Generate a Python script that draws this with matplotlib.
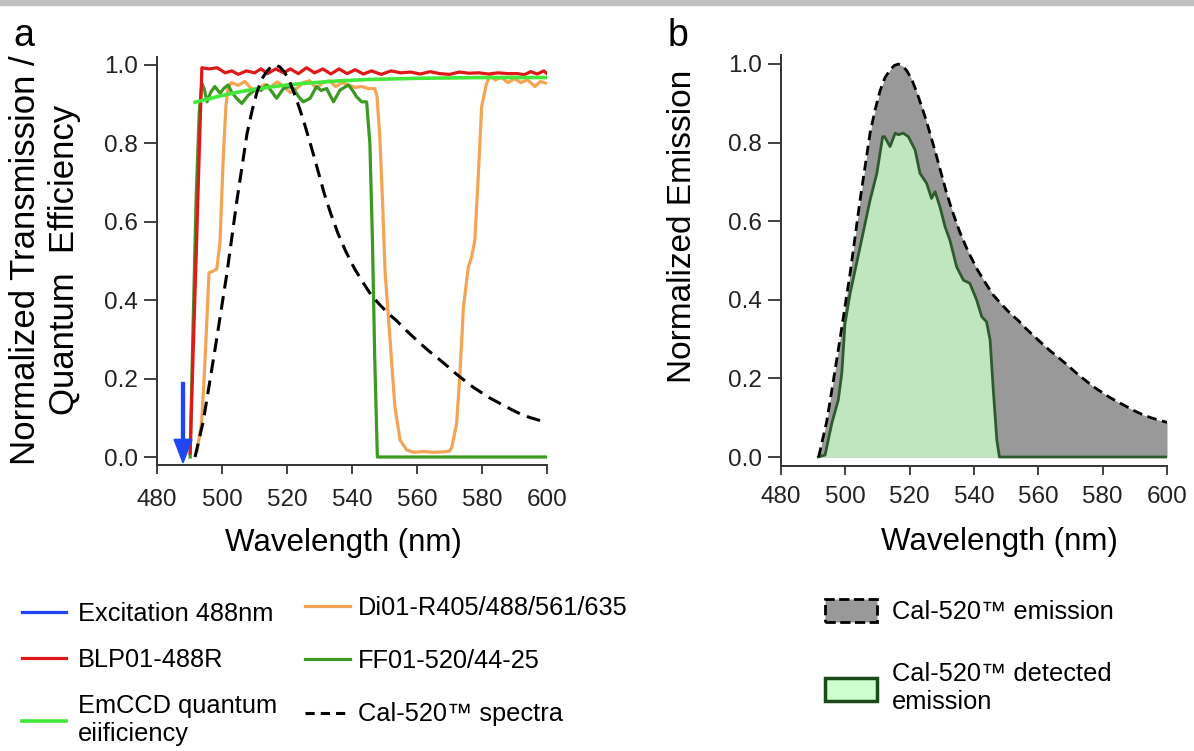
import matplotlib
matplotlib.use("Agg")
import matplotlib.pyplot as plt
from matplotlib.lines import Line2D
from matplotlib.patches import Patch, Rectangle

plt.rcParams['font.family'] = ['Liberation Sans', 'DejaVu Sans']

# ---------------- data ----------------
excitation_wl = 488.0
excitation_top = 0.19
excitation_bottom = -0.015

blp_wl = [490.2, 491.1, 492.0, 492.9, 493.8, 496, 498.5, 501, 503, 505, 507.5, 510, 512, 514, 516.5,
          519, 521, 523.5, 526, 528.5, 531, 533.5, 536, 538.5, 541, 543.5, 546, 549, 552, 555,
          558, 561, 564, 567, 570, 573, 576, 579, 582, 585, 588, 591, 593, 595, 597, 599, 600]
blp_val = [0.01, 0.26, 0.5, 0.75, 0.993, 0.99, 0.993, 0.98, 0.985, 0.976, 0.985, 0.98, 0.99, 0.978, 0.99,
           0.98, 0.99, 0.978, 0.993, 0.98, 0.99, 0.977, 0.99, 0.978, 0.988, 0.977, 0.985, 0.976, 0.985, 0.98,
           0.982, 0.977, 0.983, 0.978, 0.976, 0.982, 0.979, 0.98, 0.977, 0.98, 0.978, 0.978, 0.975, 0.983, 0.977, 0.985, 0.978]

qe_wl = [491.7, 495, 500, 505, 510, 515, 520, 525, 530, 535, 540, 545, 550, 560, 570, 580, 590, 600]
qe_val = [0.905, 0.912, 0.922, 0.931, 0.938, 0.944, 0.949, 0.953, 0.956, 0.959, 0.961, 0.963, 0.964,
          0.966, 0.967, 0.968, 0.968, 0.968]

di01_wl = [492.3, 493.7, 494.5, 495.3, 496.0, 497.5, 498.4, 499.4, 500.0, 500.4, 501.2, 501.9, 503, 505,
           507, 509, 511, 513, 515, 517, 519, 521, 523, 525, 527, 529, 531, 533, 535, 537, 539, 541,
           543, 545, 547.0, 547.7, 548.6, 549.4, 550.2, 551.7, 553.2, 554.8, 556.8, 559, 562, 565, 568,
           570.0, 570.7, 572.2, 573.2, 574.3, 575.8, 576.8, 577.8, 578.9, 579.9, 581.4, 582.5, 584, 586,
           588, 590, 592, 594, 596.3, 598, 600]
di01_val = [0.015, 0.086, 0.2, 0.34, 0.47, 0.475, 0.48, 0.55, 0.68, 0.766, 0.894, 0.945, 0.955, 0.948,
            0.958, 0.94, 0.936, 0.95, 0.944, 0.957, 0.945, 0.93, 0.94, 0.955, 0.96, 0.94, 0.955, 0.96,
            0.945, 0.955, 0.948, 0.943, 0.945, 0.94, 0.94, 0.92, 0.81, 0.65, 0.47, 0.30, 0.128, 0.043,
            0.018, 0.012, 0.014, 0.012, 0.013, 0.015, 0.025, 0.086, 0.21, 0.383, 0.485, 0.51, 0.553,
            0.724, 0.894, 0.953, 0.974, 0.962, 0.968, 0.955, 0.965, 0.955, 0.962, 0.945, 0.958, 0.953]

ff01_wl = [490.2, 491.0, 492.0, 493.0, 493.8, 494.5, 495.4, 496.5, 497.8, 499.4, 500.5, 501.9, 503,
           504.5, 506.1, 508.1, 510.7, 512, 513.8, 515.5, 516.8, 518.9, 520.5, 522, 523.5, 525, 527.1,
           529.1, 530.5, 532.2, 534.3, 536.3, 538.9, 540.2, 541.4, 543, 544.5, 545.5, 546.3, 547.0,
           547.8, 600]
ff01_val = [0.0, 0.3, 0.65, 0.88, 0.953, 0.94, 0.906, 0.93, 0.945, 0.928, 0.94, 0.949, 0.93, 0.915,
            0.902, 0.923, 0.94, 0.935, 0.949, 0.93, 0.915, 0.94, 0.945, 0.94, 0.92, 0.906, 0.915, 0.945,
            0.935, 0.94, 0.906, 0.936, 0.949, 0.935, 0.919, 0.906, 0.906, 0.8, 0.55, 0.25, 0.0, 0.0]

cal_wl = [491.7, 494.2, 496, 498.3, 501.5, 504.6, 507.7, 509.3, 510.8, 512.3, 513.9, 515.2, 516.5,
          517.8, 519.1, 520.6, 522.2, 523.7, 525.3, 526.8, 528.4, 530, 531.5, 533.5, 535.6, 538,
          540.8, 543.4, 546, 548.6, 551.2, 553.8, 556.4, 559, 561.5, 564, 566.7, 569.3, 571.9, 574.5,
          577.1, 579.7, 582.3, 585, 587.5, 590, 592.6, 595, 597.5, 600]
cal_val = [0.0, 0.09, 0.18, 0.298, 0.468, 0.655, 0.825, 0.885, 0.932, 0.965, 0.985, 0.996, 1.0,
           0.995, 0.983, 0.962, 0.928, 0.893, 0.852, 0.81, 0.764, 0.716, 0.671, 0.62, 0.572, 0.526,
           0.48, 0.445, 0.412, 0.388, 0.366, 0.347, 0.325, 0.305, 0.286, 0.268, 0.25, 0.232, 0.213,
           0.196, 0.179, 0.165, 0.151, 0.139, 0.128, 0.117, 0.107, 0.1, 0.094, 0.088]

det_wl = [491.6, 493.7, 495.8, 497.8, 498.9, 499.9, 501.5, 504.6, 507.7, 509.8, 511.6, 512.2, 513.9,
          515.5, 516.5, 518.0, 519.6, 521.7, 523.2, 525.3, 526.8, 527.9, 529.4, 531.0, 532.5, 534.6,
          536.7, 538.7, 540.8, 542.4, 543.9, 545.0, 546.0, 547.1, 547.9, 600]
det_val = [0.0, 0.005, 0.086, 0.145, 0.213, 0.34, 0.417, 0.535, 0.654, 0.722, 0.815, 0.815, 0.79,
           0.824, 0.82, 0.824, 0.815, 0.781, 0.722, 0.696, 0.658, 0.675, 0.637, 0.586, 0.552, 0.484,
           0.45, 0.442, 0.4, 0.357, 0.344, 0.298, 0.17, 0.043, 0.0, 0.0]

x_ticks = [480, 500, 520, 540, 560, 580, 600]
y_ticks = [0.0, 0.2, 0.4, 0.6, 0.8, 1.0]

# ---------------- styles ----------------
C_BLUE = '#1f45f5'
C_RED = '#e01818'
C_QE = '#44e83a'
C_ORANGE = '#f4a455'
C_FF01 = '#3c9a22'
C_GREY = '#999999'
C_LGREEN = '#c0e6c0'
C_DGREEN = '#2e5a2e'
SPINE = '#333333'

W, H = 1194, 751
fig = plt.figure(figsize=(W / 100, H / 100), dpi=100)
fig.patches.append(Rectangle((0, 1 - 5 / H), 1, 5 / H, transform=fig.transFigure,
                             color='#c0c0c0', zorder=0))


def px_axes(l, r, b, t):
    return fig.add_axes([l / W, 1 - b / H, (r - l) / W, (b - t) / H])


def style_axes(ax, xpad):
    for s in ['top', 'right']:
        ax.spines[s].set_visible(False)
    for s in ['left', 'bottom']:
        ax.spines[s].set_color(SPINE)
        ax.spines[s].set_linewidth(1.4)
    ax.set_xlim(480, 600)
    ax.set_xticks(x_ticks)
    ax.set_yticks(y_ticks)
    ax.set_yticklabels([f'{v:.1f}' for v in y_ticks])
    ax.tick_params(axis='x', length=6.5, width=1.3, pad=xpad, labelsize=17.5, colors=SPINE,
                   labelcolor='#222222')
    ax.tick_params(axis='y', length=9.5, width=1.3, pad=4.5, labelsize=17.5, colors=SPINE,
                   labelcolor='#222222')


# ---------------- panel a ----------------
ax1 = px_axes(157, 547, 465, 57)
style_axes(ax1, 11)
ax1.set_ylim(-0.0204, 1.0204)

ax1.plot(di01_wl, di01_val, color=C_ORANGE, lw=2.3, zorder=3)
ax1.plot(ff01_wl, ff01_val, color=C_FF01, lw=2.3, zorder=4)
ax1.plot(blp_wl, blp_val, color=C_RED, lw=2.3, zorder=4)
ax1.plot(qe_wl, qe_val, color=C_QE, lw=2.6, zorder=5)
ax1.plot(cal_wl, cal_val, color='black', lw=2.2, dashes=(4.5, 2.5), zorder=6)
ax1.arrow(excitation_wl, excitation_top, 0, excitation_bottom - excitation_top, width=0.9,
          head_width=5.5, head_length=0.06, length_includes_head=True, color=C_BLUE,
          zorder=7)

ax1.set_xlabel('Wavelength (nm)', fontsize=22.5, va='center', ha='center')
ax1.xaxis.set_label_coords(0.477, -0.191)
ax1.set_ylabel('Normalized Transmission /\nQuantum  Efficiency', fontsize=25, va='center',
               ha='center', linespacing=1.2)
ax1.yaxis.set_label_coords(-0.287, 0.502)

# ---------------- panel b ----------------
ax2 = px_axes(781, 1167, 466, 55)
style_axes(ax2, 8)
ax2.set_ylim(-0.0229, 1.0229)

ax2.fill_between(cal_wl, 0, cal_val, color=C_GREY, lw=0, zorder=2)
ax2.fill_between(det_wl, 0, det_val, color=C_LGREEN, lw=0, zorder=3)
ax2.plot(det_wl, det_val, color=C_DGREEN, lw=2.0, zorder=4)
ax2.plot(cal_wl, cal_val, color='black', lw=2.0, dashes=(3.5, 2.0), zorder=5)

ax2.set_xlabel('Wavelength (nm)', fontsize=22.5, va='center', ha='center')
ax2.xaxis.set_label_coords(0.565, -0.185)
ax2.set_ylabel('Normalized Emission', fontsize=24, va='center', ha='center')
ax2.yaxis.set_label_coords(-0.254, 0.582)

# panel letters
fig.text(13 / W, 1 - 46 / H, 'a', fontsize=27, ha='left', va='baseline')
fig.text(668 / W, 1 - 46 / H, 'b', fontsize=27, ha='left', va='baseline')

# ---------------- legends ----------------
LEG_FS = 18.3
leg_kw = dict(loc='upper left', bbox_transform=fig.transFigure, frameon=False, borderpad=0,
              borderaxespad=0, prop={'size': LEG_FS})

col1 = [Line2D([], [], color=C_BLUE, lw=2.3), Line2D([], [], color=C_RED, lw=2.3),
        Line2D([], [], color=C_QE, lw=2.6)]
lab1 = ['Excitation 488nm', 'BLP01-488R', 'EmCCD quantum\neiificiency']
col2 = [Line2D([], [], color=C_ORANGE, lw=2.3), Line2D([], [], color=C_FF01, lw=2.3),
        Line2D([], [], color='black', lw=2.2, dashes=(3.0, 2.0))]
lab2 = ['Di01-R405/488/561/635', 'FF01-520/44-25', 'Cal-520™ spectra']

l1 = fig.legend(col1, lab1, bbox_to_anchor=(22 / W, 1 - 602 / H), handlelength=1.73,
                handletextpad=0.47, labelspacing=0.87, **leg_kw)
l2 = fig.legend(col2, lab2, bbox_to_anchor=(305 / W, 1 - 596 / H), handlelength=1.77,
                handletextpad=0.3, labelspacing=1.15, **leg_kw)

col3 = [Patch(facecolor=C_GREY, edgecolor='black', linestyle='--', lw=2.0),
        Patch(facecolor='#ccffcc', edgecolor='#1a4a1a', lw=2.5)]
lab3 = ['Cal-520™ emission', 'Cal-520™ detected\nemission']
l3 = fig.legend(col3, lab3, bbox_to_anchor=(825 / W, 1 - 599 / H), handlelength=2.05,
                handleheight=1.02, handletextpad=0.59, labelspacing=1.5, **leg_kw)

fig.savefig('out.png', dpi=100)
